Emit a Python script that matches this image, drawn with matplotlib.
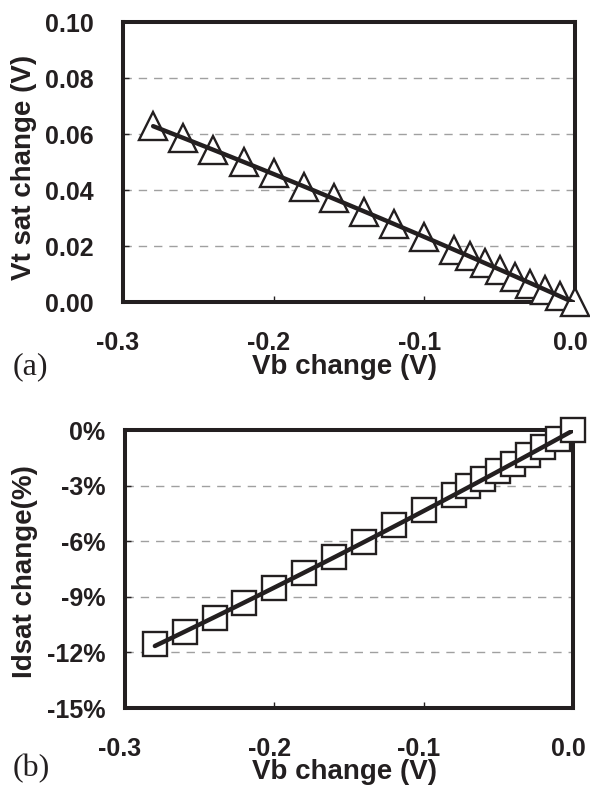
import numpy as np
import matplotlib
matplotlib.use("Agg")
import matplotlib.pyplot as plt
import matplotlib.transforms as mtransforms
from matplotlib.ticker import FuncFormatter

# data
vb = [-0.28, -0.26, -0.24, -0.22, -0.20, -0.18, -0.16, -0.14, -0.12, -0.10,
      -0.08, -0.07, -0.06, -0.05, -0.04, -0.03, -0.02, -0.01, 0.0]
vt_sat = [0.0627, 0.0585, 0.0544, 0.0500, 0.0460, 0.0412, 0.0370, 0.0322, 0.0280, 0.0233,
          0.0185, 0.0165, 0.0138, 0.0114, 0.0090, 0.0066, 0.0043, 0.0022, 0.0]
idsat = [-11.57, -10.90, -10.16, -9.35, -8.50, -7.70, -6.87, -6.06, -5.15, -4.34,
         -3.53, -3.04, -2.66, -2.20, -1.84, -1.36, -0.94, -0.49, 0.0]

x_ticks = [-0.3, -0.2, -0.1, 0.0]
vt_ticks = [0.00, 0.02, 0.04, 0.06, 0.08, 0.10]
id_ticks = [0, -3, -6, -9, -12, -15]

ink = '#231f20'
plt.rcParams['font.family'] = ['Liberation Sans', 'DejaVu Sans']
plt.rcParams['font.weight'] = 'bold'
plt.rcParams['axes.labelweight'] = 'bold'

fig = plt.figure(figsize=(5.9, 7.85), dpi=100)
ax1 = fig.add_axes([123 / 590, 1 - 302 / 785, 452 / 590, 280 / 785])
ax2 = fig.add_axes([125 / 590, 1 - 708 / 785, 448 / 590, 278 / 785])

# x tick labels sit a little left of their ticks in the original
shift = mtransforms.ScaledTranslation(-5 / 100, 0, fig.dpi_scale_trans)


def style(ax, ypad):
    for s in ax.spines.values():
        s.set_linewidth(2.9)
        s.set_color(ink)
        s.set_zorder(3)
    ax.tick_params(direction='in', length=4, width=1, colors=ink, labelsize=18)
    ax.tick_params(axis='x', pad=21)
    ax.tick_params(axis='y', pad=ypad)
    ax.set_xlim(-0.3, 0.0)
    ax.set_xticks(x_ticks)
    ax.xaxis.set_major_formatter(FuncFormatter(lambda v, p: f"{v:.1f}"))
    for lab in ax.get_xticklabels():
        lab.set_transform(lab.get_transform() + shift)
    ax.grid(axis='y', color='#a0a0a0', linestyle=(0, (6, 5)), linewidth=1)
    ax.set_axisbelow(True)


def trend(ax, x, y):
    # smooth trend line through the measured points
    c = np.polyfit(x, y, 2)
    xs = np.linspace(min(x), max(x), 100)
    ax.plot(xs, np.polyval(c, xs), color=ink, lw=3.2, zorder=5, solid_capstyle='round')


# (a) Vt sat change
style(ax1, 21)
ax1.set_ylim(0, 0.10)
ax1.set_yticks(vt_ticks)
ax1.yaxis.set_major_formatter(FuncFormatter(lambda v, p: f"{v:.2f}"))
ax1.plot(vb, vt_sat, linestyle='none', marker='^', ms=20, mfc='white', mec=ink,
         mew=1.7, zorder=4, clip_on=False)
trend(ax1, vb, vt_sat)
ax1.set_xlabel('Vb change (V)', fontsize=20, color=ink, fontweight='bold')
ax1.xaxis.set_label_coords(0.49, -0.185)
ax1.set_ylabel('Vt sat change (V)', fontsize=20, color=ink, fontweight='bold')
ax1.yaxis.set_label_coords(-0.19, 0.48)

# (b) Idsat change
style(ax2, 14)
ax2.set_ylim(-15, 0)
ax2.set_yticks(id_ticks)
ax2.yaxis.set_major_formatter(FuncFormatter(lambda v, p: f"{v:.0f}%"))
ax2.plot(vb, idsat, linestyle='none', marker='s', ms=17, mfc='white', mec=ink,
         mew=1.7, zorder=4, clip_on=False)
trend(ax2, vb, idsat)
ax2.set_xlabel('Vb change (V)', fontsize=20, color=ink, fontweight='bold')
ax2.xaxis.set_label_coords(0.49, -0.185)
ax2.set_ylabel('Idsat change(%)', fontsize=20, color=ink, fontweight='bold')
ax2.yaxis.set_label_coords(-0.194, 0.49)

fig.text(13 / 590, 1 - 374 / 785, '(a)', family='Liberation Serif', fontweight='normal',
         fontsize=23, color=ink, va='baseline')
fig.text(13 / 590, 1 - 776 / 785, '(b)', family='Liberation Serif', fontweight='normal',
         fontsize=23, color=ink, va='baseline')

fig.savefig('out.png', dpi=100)
